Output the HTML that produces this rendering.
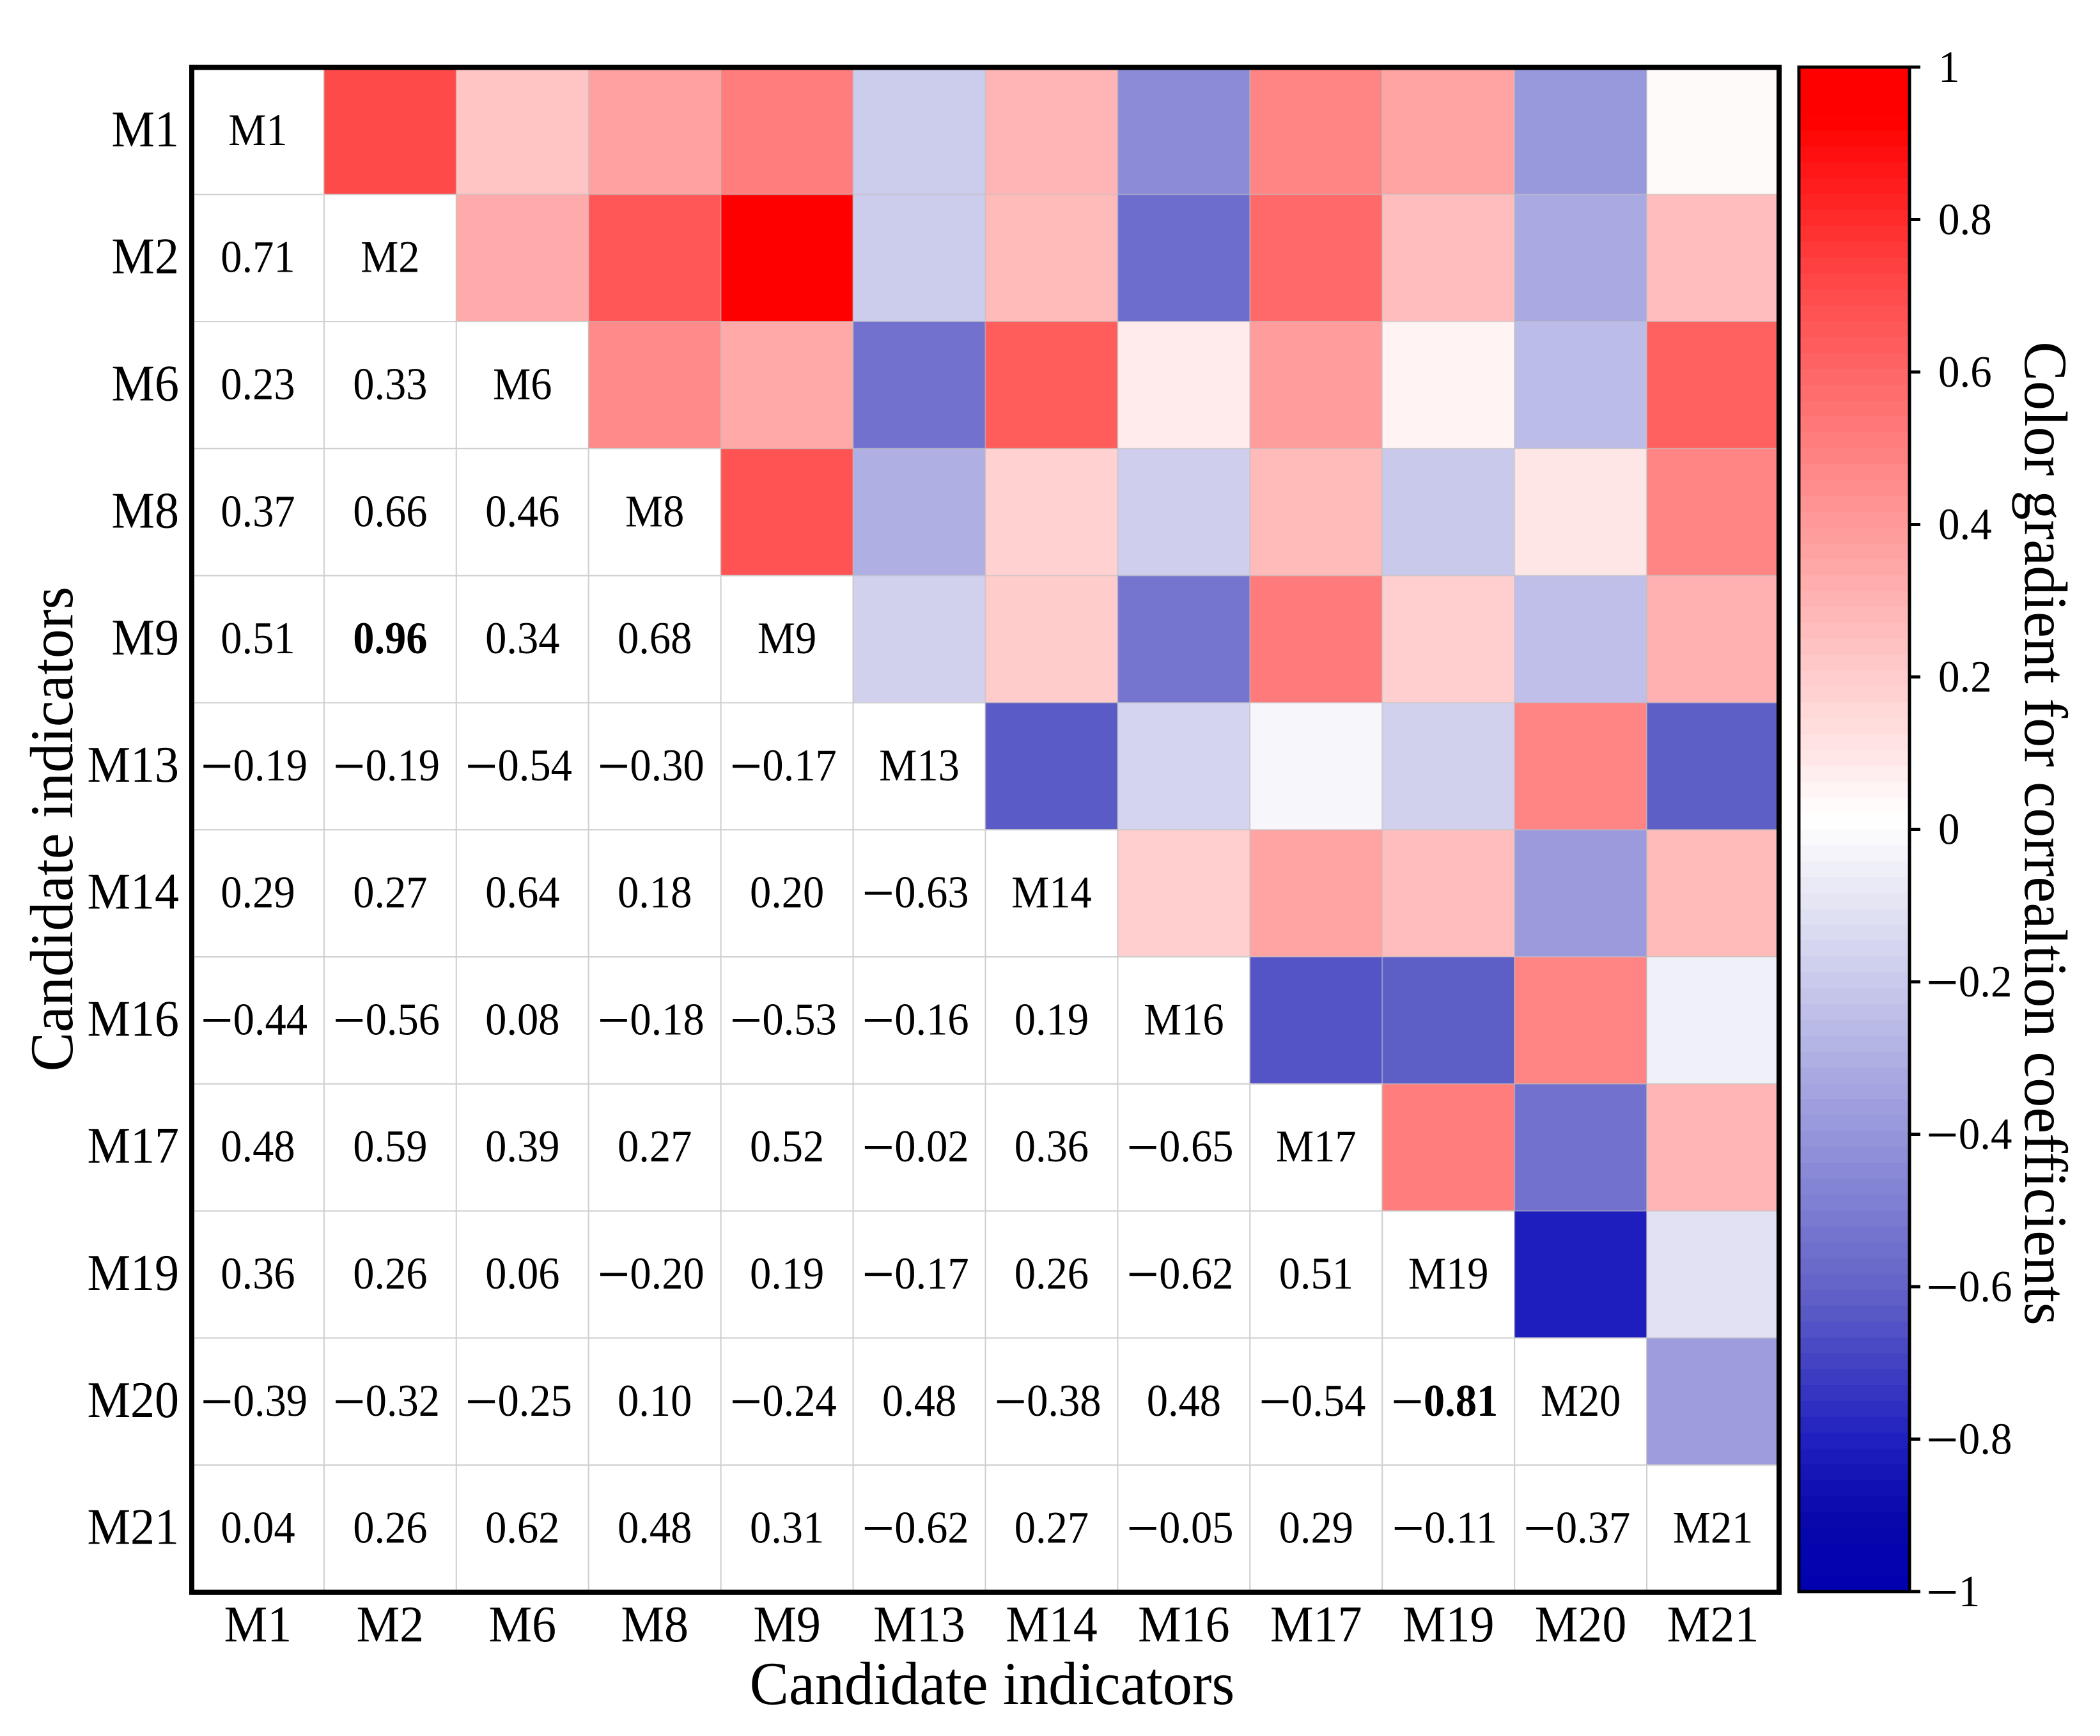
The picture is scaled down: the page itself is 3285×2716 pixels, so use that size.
<!DOCTYPE html>
<html lang="en">
<head>
<meta charset="utf-8">
<title>Correlation heatmap of candidate indicators</title>
<style>
html,body{margin:0;padding:0;background:#fff;}
body{width:3285px;height:2716px;overflow:hidden;}
svg{display:block;}
text{font-family:"Liberation Serif","Times New Roman",serif;fill:#000;}
</style>
</head>
<body>
<svg id="chart" xmlns="http://www.w3.org/2000/svg" width="3285" height="2716" viewBox="0 0 3285 2716">
  <rect x="0" y="0" width="3285" height="2716" fill="#fff"/>
  <g id="cells"></g>
  <rect x="300" y="105.5" width="2483" height="2385.5" fill="none" stroke="#000" stroke-width="8"/>
  <g id="ytick-labels"></g>
  <g id="xtick-labels"></g>
  <text text-anchor="middle" font-size="92" transform="translate(1552,2666) scale(1,1.04)">Candidate indicators</text>
  <text text-anchor="middle" font-size="92" transform="translate(113,1297) rotate(-90) scale(1,1.04)">Candidate indicators</text>
  <g id="colorbar"></g>
  <text text-anchor="middle" font-size="92.2" transform="translate(3168,1304) rotate(90) scale(1,1.03)">Color gradient for correaltion coefficients</text>
</svg>
<script>
// ---- chart data ----
const categories = ["M1","M2","M6","M8","M9","M13","M14","M16","M17","M19","M20","M21"];
const rowM1 = [];
const rowM2 = [0.71];
const rowM6 = [0.23,0.33];
const rowM8 = [0.37,0.66,0.46];
const rowM9 = [0.51,0.96,0.34,0.68];
const rowM13 = [-0.19,-0.19,-0.54,-0.30,-0.17];
const rowM14 = [0.29,0.27,0.64,0.18,0.20,-0.63];
const rowM16 = [-0.44,-0.56,0.08,-0.18,-0.53,-0.16,0.19];
const rowM17 = [0.48,0.59,0.39,0.27,0.52,-0.02,0.36,-0.65];
const rowM19 = [0.36,0.26,0.06,-0.20,0.19,-0.17,0.26,-0.62,0.51];
const rowM20 = [-0.39,-0.32,-0.25,0.10,-0.24,0.48,-0.38,0.48,-0.54,-0.81];
const rowM21 = [0.04,0.26,0.62,0.48,0.31,-0.62,0.27,-0.05,0.29,-0.11,-0.37];
const correlationRows = [rowM1,rowM2,rowM6,rowM8,rowM9,rowM13,rowM14,rowM16,rowM17,rowM19,rowM20,rowM21];
const boldValues = [0.96,-0.81];
const colorbarTicks = [1,0.8,0.6,0.4,0.2,0,-0.2,-0.4,-0.6,-0.8,-1];
const colorbarTickLabels = ["1","0.8","0.6","0.4","0.2","0","\u22120.2","\u22120.4","\u22120.6","\u22120.8","\u22121"];
const positiveStops = [[0,255,255],[0.04,250,250],[0.08,235,235],[0.71,74,74],[0.93,0,0],[1,0,0]];
const negativeStops = [[0,255,255],[0.02,246,251],[0.05,240,248],[0.11,225,243],[0.37,157,222],[0.62,94,199],[0.8,32,192],[0.9,8,172],[1,0,176]];

// ---- axis functions ----
const NS = "http://www.w3.org/2000/svg";
const plotLeft = 300, plotRight = 2783, plotTop = 105.5, plotBottom = 2491;
const cbLeft = 2814, cbRight = 2987, cbTop = 105, cbBottom = 2490;
const cellW = (plotRight - plotLeft) / categories.length;
const cellH = (plotBottom - plotTop) / categories.length;
const cellFont = 66.5, cellMinusFont = 90, negShift = 6, minusDrop = 9;
function xAt(i){ return plotLeft + i * cellW; }
function yAt(i){ return plotTop + i * cellH; }
function cbY(v){ return cbTop + (1 - v) / 2 * (cbBottom - cbTop); }
function colorFor(v){
  const a = Math.min(1, Math.abs(v));
  const stops = v >= 0 ? positiveStops : negativeStops;
  for (let k = 1; k < stops.length; k++) {
    const p = stops[k - 1], q = stops[k];
    if (a <= q[0]) {
      const t = (a - p[0]) / (q[0] - p[0]);
      const rg = Math.round(p[1] + t * (q[1] - p[1]));
      const b = Math.round(p[2] + t * (q[2] - p[2]));
      return v >= 0 ? "rgb(255," + rg + "," + b + ")" : "rgb(" + rg + "," + rg + "," + b + ")";
    }
  }
  return v >= 0 ? "rgb(255,0,0)" : "rgb(0,0,176)";
}
function makeText(parent, str, x, y, size, anchor, sy){
  const t = document.createElementNS(NS, "text");
  t.setAttribute("text-anchor", anchor);
  t.setAttribute("font-size", size);
  t.setAttribute("transform", "translate(" + x + "," + y + ") scale(1," + sy + ")");
  t.textContent = str;
  parent.appendChild(t);
  return t;
}
function fillValueText(t, v, minusSize){
  const bold = boldValues.indexOf(v) >= 0;
  const body = Math.abs(v).toFixed(2);
  t.textContent = "";
  if (v < 0) {
    const minus = document.createElementNS(NS, "tspan");
    minus.setAttribute("font-size", minusSize);
    minus.setAttribute("dy", minusDrop);
    minus.textContent = "\u2212";
    t.appendChild(minus);
  }
  const digits = document.createElementNS(NS, "tspan");
  if (v < 0) digits.setAttribute("dy", -minusDrop);
  if (bold) digits.setAttribute("font-weight", "bold");
  digits.textContent = body;
  t.appendChild(digits);
}

// ---- heatmap ----
const cellsGroup = document.getElementById("cells");
categories.forEach(function(rowName, r){
  categories.forEach(function(colName, c){
    const v = r === c ? null : (c < r ? correlationRows[r][c] : correlationRows[c][r]);
    const upper = c > r;
    const rect = document.createElementNS(NS, "rect");
    
    
    rect.setAttribute("x", xAt(c));
    rect.setAttribute("y", yAt(r));
    rect.setAttribute("width", cellW);
    rect.setAttribute("height", cellH);
    rect.setAttribute("fill", upper ? colorFor(v) : "#fff");
    rect.setAttribute("stroke", upper ? "rgba(190,190,190,0.45)" : "#cfcfcf");
    rect.setAttribute("stroke-width", "2");
    cellsGroup.appendChild(rect);
  });
});
categories.forEach(function(rowName, r){
  categories.forEach(function(colName, c){
    if (c > r) return;
    const v = c === r ? null : correlationRows[r][c];
    const cx = xAt(c) + cellW / 2 - (v !== null && v < 0 ? negShift : 0);
    const by = yAt(r) + cellH / 2 + 22;
    const t = makeText(cellsGroup, c === r ? rowName : "", cx, by, cellFont, "middle", 1.06);
    if (c === r) {
      
      
    } else {
      fillValueText(t, v, cellMinusFont);
      
      
    }
  });
});

// ---- axis tick labels ----
const yLabels = document.getElementById("ytick-labels");
const xLabels = document.getElementById("xtick-labels");
categories.forEach(function(name, i){
  const yl = makeText(yLabels, name, 280, yAt(i) + cellH / 2 + 24, 76, "end", 1.06);
  
  
  const xl = makeText(xLabels, name, xAt(i) + cellW / 2, 2568, 76, "middle", 1.06);
  
  
});

// ---- colorbar ----
const cb = document.getElementById("colorbar");
const bandCount = 96;
for (let b = 0; b < bandCount; b++) {
  const hi = 1 - 2 * b / bandCount;
  const lo = 1 - 2 * (b + 1) / bandCount;
  const band = document.createElementNS(NS, "rect");
  
  
  band.setAttribute("x", cbLeft);
  band.setAttribute("y", cbY(hi));
  band.setAttribute("width", cbRight - cbLeft);
  band.setAttribute("height", cbY(lo) - cbY(hi) + 0.6);
  band.setAttribute("fill", colorFor((hi + lo) / 2));
  cb.appendChild(band);
}
const cbFrame = document.createElementNS(NS, "rect");


cbFrame.setAttribute("x", cbLeft);
cbFrame.setAttribute("y", cbTop);
cbFrame.setAttribute("width", cbRight - cbLeft);
cbFrame.setAttribute("height", cbBottom - cbTop);
cbFrame.setAttribute("fill", "none");
cbFrame.setAttribute("stroke", "#000");
cbFrame.setAttribute("stroke-width", "5");
cb.appendChild(cbFrame);
colorbarTicks.forEach(function(v, i){
  const tick = document.createElementNS(NS, "line");
  
  
  tick.setAttribute("x1", cbRight);
  tick.setAttribute("x2", 3004);
  tick.setAttribute("y1", cbY(v));
  tick.setAttribute("y2", cbY(v));
  tick.setAttribute("stroke", "#000");
  tick.setAttribute("stroke-width", "5");
  cb.appendChild(tick);
  const str = colorbarTickLabels[i];
  const neg = str.charAt(0) === "\u2212";
  const label = makeText(cb, "", neg ? 3013 : 3032, cbY(v) + 23, 67, "start", 1.04);
  if (neg) {
    const minus = document.createElementNS(NS, "tspan");
    minus.setAttribute("font-size", "90");
    minus.setAttribute("dy", minusDrop);
    minus.textContent = "\u2212";
    label.appendChild(minus);
    const rest = document.createElementNS(NS, "tspan");
    rest.setAttribute("dy", -minusDrop);
    rest.textContent = str.slice(1);
    label.appendChild(rest);
  } else {
    label.textContent = str;
  }
  
  
});
</script>
</body>
</html>
